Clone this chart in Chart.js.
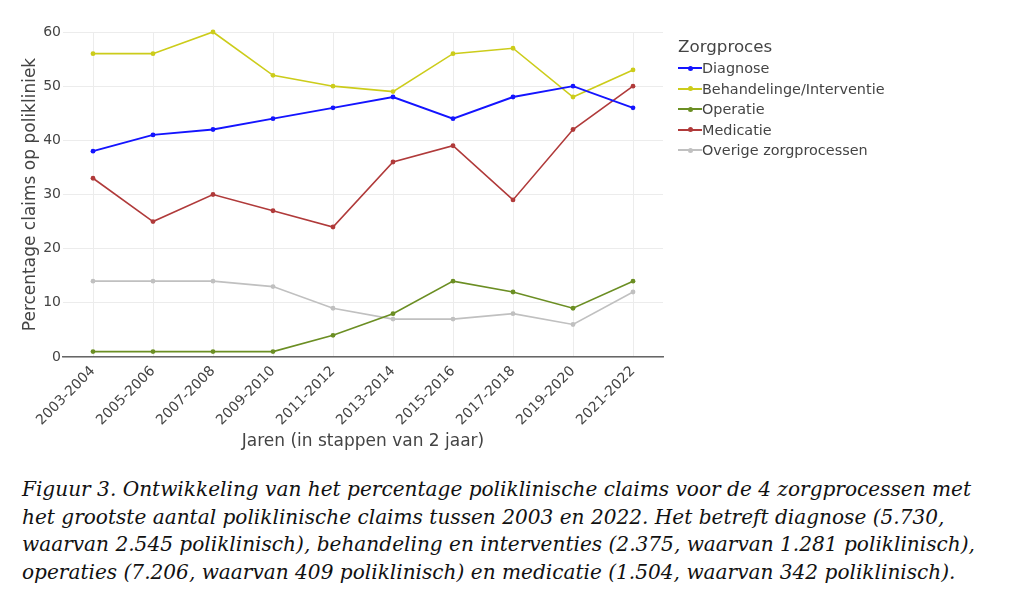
<!DOCTYPE html>
<html>
<head>
<meta charset="utf-8">
<script src="https://cdn.jsdelivr.net/npm/chart.js@4"></script>
<style>
  html, body { margin: 0; padding: 0; background: #fff; }
  #wrap { position: relative; width: 1024px; height: 603px; overflow: hidden; }
  #chartBox { position: absolute; left: 0; top: 0; width: 1024px; height: 455px; }
  #legend { position: absolute; left: 678px; top: 35px; font-family: "DejaVu Sans", Verdana, sans-serif; color: #444; }
  #legend .title { font-size: 16.7px; height: 23px; line-height: 23px; }
  #legend .row { font-size: 14.4px; height: 20.5px; line-height: 20.5px; display: flex; align-items: center; }
  #legend .sym { position: relative; width: 24px; height: 2px; margin-right: 0px; }
  #legend .sym span { position: absolute; left: 10px; top: -1.5px; width: 5px; height: 5px; border-radius: 50%; }
  #caption { position: absolute; left: 22px; top: 476px; font-family: "DejaVu Serif", serif; font-style: italic;
             font-size: 20.1px; line-height: 27.5px; color: #111; white-space: nowrap; }
</style>
</head>
<body>
<div id="wrap">
  <div id="chartBox"><canvas id="chart"></canvas></div>
  <div id="legend"></div>
  <div id="caption">Figuur 3. Ontwikkeling van het percentage poliklinische claims voor de 4 zorgprocessen met<br>het grootste aantal poliklinische claims tussen 2003 en 2022. Het betreft diagnose (5.730,<br>waarvan 2.545 poliklinisch), behandeling en interventies (2.375, waarvan 1.281 poliklinisch),<br>operaties (7.206, waarvan 409 poliklinisch) en medicatie (1.504, waarvan 342 poliklinisch).</div>
</div>
<script>
// data
const periods = ["2003-2004", "2005-2006", "2007-2008", "2009-2010", "2011-2012",
                 "2013-2014", "2015-2016", "2017-2018", "2019-2020", "2021-2022"];
const diagnose   = [38, 41, 42, 44, 46, 48, 44, 48, 50, 46];
const behandeling = [56, 56, 60, 52, 50, 49, 56, 57, 48, 53];
const operatie   = [1, 1, 1, 1, 4, 8, 14, 12, 9, 14];
const medicatie  = [33, 25, 30, 27, 24, 36, 39, 29, 42, 50];
const overige    = [14, 14, 14, 13, 9, 7, 7, 8, 6, 12];
const yTicks = [0, 10, 20, 30, 40, 50, 60];

const seriesNames = ["Diagnose", "Behandelinge/Interventie", "Operatie", "Medicatie", "Overige zorgprocessen"];
const seriesColors = ["#1414ff", "#cccc1a", "#6b8e23", "#b03a3a", "#c0c0c0"];
const seriesData = [diagnose, behandeling, operatie, medicatie, overige];

const FONT = "'DejaVu Sans', Verdana, sans-serif";

const datasets = seriesData.map((d, i) => ({
    label: seriesNames[i],
    data: d,
    borderColor: seriesColors[i],
    backgroundColor: seriesColors[i],
    borderWidth: i === 0 ? 1.9 : 1.6,
    pointRadius: 2.4,
    pointBorderWidth: 0,
    pointHoverRadius: 3,
    tension: 0,
    clip: false
}));

new Chart(document.getElementById("chart"), {
    type: "line",
    data: { labels: periods, datasets: datasets },
    options: {
        responsive: true,
        maintainAspectRatio: false,
        animation: false,
        layout: { padding: { top: 32, right: 361, left: 16, bottom: 0 } },
        plugins: { legend: { display: false }, tooltip: { enabled: false } },
        scales: {
            x: {
                type: "category",
                offset: true,
                grid: { color: "#ececec", drawTicks: false },
                border: { display: true, color: "#666", width: 1.5 },
                ticks: {
                    color: "#444", font: { family: FONT, size: 14 },
                    minRotation: 45, maxRotation: 45, padding: 6
                },
                title: {
                    display: true, text: "Jaren (in stappen van 2 jaar)",
                    color: "#444", font: { family: FONT, size: 17 }, padding: { top: 0, bottom: 3 }
                },
                afterFit: (s) => { s.height = 98; }
            },
            y: {
                min: 0, max: 60,
                afterBuildTicks: (s) => { s.ticks = yTicks.map(v => ({ value: v })); },
                grid: { color: "#ececec", drawTicks: false },
                border: { display: false },
                ticks: { color: "#444", font: { family: FONT, size: 14 }, padding: 2 },
                title: {
                    display: true, text: "Percentage claims op polikliniek",
                    color: "#444", font: { family: FONT, size: 17 }, padding: { top: 4, bottom: 0 }
                },
                afterFit: (s) => { s.width = 47; }
            }
        }
    }
});

// legend drawn as html, built from the same series lists
const legend = document.getElementById("legend");
let html = '<div class="title">Zorgproces</div>';
seriesNames.forEach((n, i) => {
    html += '<div class="row"><div class="sym" style="background:' + seriesColors[i] + '"><span style="background:' +
            seriesColors[i] + '"></span></div>' + n + '</div>';
});
legend.innerHTML = html;
</script>
</body>
</html>
